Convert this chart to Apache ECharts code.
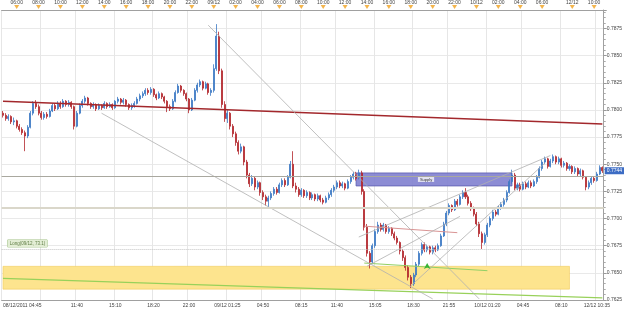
<!DOCTYPE html>
<html>
<head>
<meta charset="utf-8">
<title>NZDUSD M15</title>
<script src="https://cdn.jsdelivr.net/npm/echarts@6/dist/echarts.min.js"></script>
<style>
  html, body { margin: 0; padding: 0; background: #fff; }
  #chart { width: 625px; height: 313px; }
</style>
</head>
<body>
<div id="chart"></div>
<script>
// 15 minute candles, [open, close, low, high]
var day0812 = [
  [0.7797,0.7795,0.7793,0.7799],[0.7795,0.7792,0.7790,0.7797],[0.7792,0.7794,0.7790,0.7796],[0.7794,0.7789,0.7787,0.7795],
  [0.7789,0.7790,0.7786,0.7793],[0.7790,0.7785,0.7783,0.7791],[0.7785,0.7782,0.7780,0.7787],[0.7782,0.7779,0.7777,0.7784],
  [0.7779,0.7776,0.7762,0.7781],[0.7776,0.7784,0.7774,0.7786],[0.7784,0.7797,0.7783,0.7799],[0.7797,0.7806,0.7795,0.7808],
  [0.7806,0.7803,0.7801,0.7809],[0.7803,0.7797,0.7795,0.7805],[0.7797,0.7793,0.7791,0.7799],[0.7793,0.7796,0.7791,0.7798],
  [0.7796,0.7794,0.7792,0.7798],[0.7794,0.7799,0.7793,0.7801],[0.7799,0.7804,0.7798,0.7806],[0.7804,0.7801,0.7799,0.7806],
  [0.7801,0.7806,0.7800,0.7808],[0.7806,0.7803,0.7801,0.7808],[0.7803,0.7808,0.7802,0.7810],[0.7808,0.7805,0.7803,0.7809],
  [0.7805,0.7807,0.7803,0.7809],[0.7807,0.7803,0.7801,0.7808],[0.7803,0.7785,0.7782,0.7804],[0.7785,0.7797,0.7784,0.7799],
  [0.7797,0.7804,0.7796,0.7806],[0.7804,0.7808,0.7802,0.7810],[0.7808,0.7811,0.7806,0.7813],[0.7811,0.7806,0.7804,0.7812],
  [0.7806,0.7803,0.7801,0.7807],[0.7803,0.7805,0.7801,0.7807],[0.7805,0.7801,0.7799,0.7806],[0.7801,0.7804,0.7800,0.7806],
  [0.7804,0.7802,0.7800,0.7805],[0.7802,0.7806,0.7801,0.7808],[0.7806,0.7803,0.7801,0.7807],[0.7803,0.7805,0.7802,0.7807],
  [0.7805,0.7802,0.7800,0.7806],[0.7802,0.7808,0.7801,0.7809],[0.7808,0.7810,0.7806,0.7812],[0.7810,0.7807,0.7805,0.7811],
  [0.7807,0.7809,0.7805,0.7811],[0.7809,0.7805,0.7803,0.7810],[0.7805,0.7802,0.7800,0.7806],[0.7802,0.7804,0.7800,0.7806],
  [0.7804,0.7806,0.7802,0.7808],[0.7806,0.7810,0.7805,0.7812],[0.7810,0.7813,0.7808,0.7815],[0.7813,0.7815,0.7811,0.7817],
  [0.7815,0.7818,0.7813,0.7820],[0.7818,0.7816,0.7814,0.7820],[0.7816,0.7819,0.7814,0.7821],[0.7819,0.7814,0.7812,0.7820],
  [0.7814,0.7811,0.7809,0.7815],[0.7811,0.7815,0.7810,0.7817],[0.7815,0.7812,0.7810,0.7816],[0.7812,0.7808,0.7806,0.7813],
  [0.7808,0.7803,0.7798,0.7809],[0.7803,0.7801,0.7799,0.7805],[0.7801,0.7808,0.7800,0.7810],[0.7808,0.7816,0.7807,0.7818],
  [0.7816,0.7822,0.7815,0.7824],[0.7822,0.7818,0.7816,0.7823],[0.7818,0.7815,0.7813,0.7819],[0.7815,0.7810,0.7808,0.7816],
  [0.7810,0.7800,0.7797,0.7811],[0.7800,0.7809,0.7799,0.7811],[0.7809,0.7818,0.7808,0.7820],[0.7818,0.7823,0.7816,0.7825],
  [0.7823,0.7826,0.7821,0.7828],[0.7826,0.7820,0.7818,0.7827],[0.7820,0.7824,0.7819,0.7826],[0.7824,0.7816,0.7814,0.7825],
  [0.7816,0.7818,0.7813,0.7820]
];
var day0912 = [
  [0.7818,0.7838,0.7816,0.7842],[0.7838,0.7868,0.7836,0.7879],[0.7868,0.7836,0.7833,0.7872],[0.7836,0.7805,0.7802,0.7838],
  [0.7805,0.7792,0.7789,0.7808],[0.7792,0.7797,0.7788,0.7800],[0.7797,0.7785,0.7782,0.7798],[0.7785,0.7778,0.7775,0.7787],
  [0.7778,0.7770,0.7767,0.7780],[0.7770,0.7762,0.7759,0.7772],[0.7762,0.7766,0.7760,0.7769],[0.7766,0.7752,0.7749,0.7767],
  [0.7752,0.7740,0.7737,0.7754],[0.7740,0.7732,0.7729,0.7742],[0.7732,0.7737,0.7730,0.7740],[0.7737,0.7729,0.7726,0.7739],
  [0.7729,0.7733,0.7727,0.7735],[0.7733,0.7724,0.7721,0.7734],[0.7724,0.7720,0.7717,0.7726],[0.7720,0.7716,0.7712,0.7722],
  [0.7716,0.7719,0.7710,0.7721],[0.7719,0.7723,0.7717,0.7725],[0.7723,0.7727,0.7721,0.7729],[0.7727,0.7724,0.7722,0.7729],
  [0.7724,0.7731,0.7723,0.7733],[0.7731,0.7735,0.7729,0.7737],[0.7735,0.7731,0.7729,0.7737],[0.7731,0.7738,0.7730,0.7740],
  [0.7738,0.7750,0.7737,0.7753],[0.7750,0.7730,0.7728,0.7762],[0.7730,0.7727,0.7724,0.7733],[0.7727,0.7722,0.7720,0.7729],
  [0.7722,0.7726,0.7720,0.7728],[0.7726,0.7721,0.7719,0.7727],[0.7721,0.7724,0.7719,0.7726],[0.7724,0.7719,0.7717,0.7725],
  [0.7719,0.7722,0.7717,0.7724],[0.7722,0.7718,0.7716,0.7723],[0.7718,0.7721,0.7716,0.7723],[0.7721,0.7717,0.7715,0.7722],
  [0.7717,0.7715,0.7713,0.7719],[0.7715,0.7719,0.7714,0.7721],[0.7719,0.7722,0.7717,0.7724],[0.7722,0.7726,0.7720,0.7728],
  [0.7726,0.7729,0.7724,0.7731],[0.7729,0.7733,0.7727,0.7735],[0.7733,0.7730,0.7728,0.7735],[0.7730,0.7732,0.7728,0.7734],
  [0.7732,0.7728,0.7726,0.7733],[0.7728,0.7734,0.7727,0.7736],[0.7734,0.7738,0.7732,0.7740],[0.7738,0.7741,0.7736,0.7743],
  [0.7741,0.7737,0.7735,0.7743],[0.7737,0.7742,0.7736,0.7745],[0.7742,0.7725,0.7722,0.7744],[0.7725,0.7692,0.7689,0.7727],
  [0.7692,0.7668,0.7665,0.7695],[0.7668,0.7660,0.7654,0.7670],[0.7660,0.7675,0.7658,0.7677],[0.7675,0.7688,0.7673,0.7690],
  [0.7688,0.7694,0.7686,0.7697],[0.7694,0.7690,0.7688,0.7696],[0.7690,0.7694,0.7688,0.7696],[0.7694,0.7688,0.7686,0.7695],
  [0.7688,0.7691,0.7686,0.7693],[0.7691,0.7686,0.7684,0.7692],[0.7686,0.7682,0.7680,0.7688],[0.7682,0.7678,0.7676,0.7684],
  [0.7678,0.7670,0.7667,0.7679],[0.7670,0.7664,0.7661,0.7672],[0.7664,0.7655,0.7652,0.7666],[0.7655,0.7646,0.7643,0.7657],
  [0.7646,0.7640,0.7636,0.7648],[0.7640,0.7648,0.7638,0.7650],[0.7648,0.7658,0.7646,0.7660],[0.7658,0.7668,0.7656,0.7670],
  [0.7668,0.7676,0.7666,0.7678],[0.7676,0.7671,0.7669,0.7678],[0.7671,0.7674,0.7669,0.7676],[0.7674,0.7669,0.7667,0.7675],
  [0.7669,0.7673,0.7667,0.7675],[0.7673,0.7671,0.7669,0.7675],[0.7671,0.7675,0.7670,0.7677],[0.7675,0.7684,0.7674,0.7686],
  [0.7684,0.7695,0.7683,0.7697],[0.7695,0.7705,0.7693,0.7707],[0.7705,0.7712,0.7703,0.7714],[0.7712,0.7708,0.7706,0.7713],
  [0.7708,0.7716,0.7707,0.7718],[0.7716,0.7713,0.7711,0.7718],[0.7713,0.7720,0.7712,0.7722],[0.7720,0.7724,0.7718,0.7726],
  [0.7724,0.7720,0.7718,0.7728],[0.7720,0.7714,0.7712,0.7722],[0.7714,0.7709,0.7707,0.7716],[0.7709,0.7704,0.7702,0.7711]
];
var day1012 = [
  [0.7704,0.7695,0.7693,0.7706],[0.7695,0.7686,0.7683,0.7697],[0.7686,0.7678,0.7672,0.7688],[0.7678,0.7685,0.7676,0.7687],
  [0.7685,0.7694,0.7683,0.7696],[0.7694,0.7700,0.7692,0.7702],[0.7700,0.7706,0.7698,0.7708],[0.7706,0.7704,0.7702,0.7708],
  [0.7704,0.7710,0.7703,0.7712],[0.7710,0.7713,0.7708,0.7715],[0.7713,0.7717,0.7711,0.7719],[0.7717,0.7724,0.7715,0.7726],
  [0.7724,0.7734,0.7723,0.7736],[0.7734,0.7740,0.7732,0.7745],[0.7740,0.7728,0.7726,0.7742],[0.7728,0.7731,0.7726,0.7733],
  [0.7731,0.7727,0.7725,0.7733],[0.7727,0.7732,0.7726,0.7734],[0.7732,0.7729,0.7727,0.7734],[0.7729,0.7733,0.7728,0.7735],
  [0.7733,0.7730,0.7728,0.7735],[0.7730,0.7734,0.7729,0.7736],[0.7734,0.7738,0.7732,0.7740],[0.7738,0.7746,0.7737,0.7748],
  [0.7746,0.7752,0.7744,0.7754],[0.7752,0.7755,0.7750,0.7757],[0.7755,0.7748,0.7746,0.7756],[0.7748,0.7753,0.7747,0.7755],
  [0.7753,0.7757,0.7751,0.7759],[0.7757,0.7752,0.7750,0.7758],[0.7752,0.7755,0.7750,0.7757],[0.7755,0.7749,0.7747,0.7756],
  [0.7749,0.7751,0.7747,0.7753],[0.7751,0.7746,0.7744,0.7752],[0.7746,0.7748,0.7744,0.7750]
];
var day1212 = [
  [0.7748,0.7743,0.7741,0.7749],[0.7743,0.7746,0.7741,0.7748],[0.7746,0.7741,0.7739,0.7747],[0.7741,0.7744,0.7739,0.7746],
  [0.7744,0.7738,0.7736,0.7745],[0.7738,0.7729,0.7726,0.7739],[0.7729,0.7733,0.7727,0.7735],[0.7733,0.7737,0.7731,0.7739],
  [0.7737,0.7735,0.7733,0.7739],[0.7735,0.7741,0.7734,0.7743],[0.7741,0.7747,0.7740,0.7749],[0.7747,0.7744,0.7742,0.7748]
];

// axis labels: [bar time, text]
var topTicks = [
  ['08/12 06:00','06:00'],['08/12 08:00','08:00'],['08/12 10:00','10:00'],['08/12 12:00','12:00'],
  ['08/12 14:00','14:00'],['08/12 16:00','16:00'],['08/12 18:00','18:00'],['08/12 20:00','20:00'],
  ['08/12 22:00','22:00'],['09/12 00:00','09/12'],['09/12 02:00','02:00'],['09/12 04:00','04:00'],
  ['09/12 06:00','06:00'],['09/12 08:00','08:00'],['09/12 10:00','10:00'],['09/12 12:00','12:00'],
  ['09/12 14:00','14:00'],['09/12 16:00','16:00'],['09/12 18:00','18:00'],['09/12 20:00','20:00'],
  ['09/12 22:00','22:00'],['10/12 00:00','10/12'],['10/12 02:00','02:00'],['10/12 04:00','04:00'],
  ['10/12 06:00','06:00'],['12/12 08:00','12/12'],['12/12 10:00','10:00']
];
var bottomTicks = [
  ['08/12 04:45','08/12/2011 04:45'],['08/12 08:15',''],['08/12 11:30','11:40'],['08/12 15:00','15:10'],
  ['08/12 18:30','18:20'],['08/12 21:45','22:00'],['09/12 01:15','09/12 01:25'],['09/12 04:30','04:50'],
  ['09/12 08:00','08:15'],['09/12 11:15','11:40'],['09/12 14:45','15:05'],['09/12 18:15','18:30'],
  ['09/12 21:30','21:55'],['10/12 01:00','10/12 01:20'],['10/12 04:15','04:45'],['10/12 07:45','08:10'],
  ['12/12 10:15','12/12 10:35']
];

// drawn objects, [time, price]
var redTrend   = [['08/12 04:45',0.7808],['12/12 10:45',0.7787]];
var greenTrend = [['08/12 04:45',0.7645],['12/12 10:45',0.7627]];
var greenShort = [['09/12 13:45',0.7659],['10/12 01:00',0.7652]];
var pinkLine   = [['09/12 13:45',0.7693],['09/12 22:15',0.7687]];
var grayLines = [
  [['08/12 23:30',0.7878],['10/12 00:15',0.7626]],
  [['08/12 13:45',0.7797],['09/12 20:00',0.7626]],
  [['09/12 13:15',0.7683],['10/12 06:45',0.7758]],
  [['09/12 18:00',0.7638],['10/12 06:15',0.7751]],
  [['09/12 14:00',0.7656],['09/12 22:30',0.7702]]
];
var levelGray = 0.7739;
var levelBeige = 0.7710;
var levelLong = 0.7672;
var demandZone = [['08/12 04:45',0.7656],['10/12 08:30',0.7635]];
var supplyZone = [['09/12 13:00',0.7742],['10/12 03:15',0.7730]];
var buyArrow = ['09/12 19:30',0.7659];

function pad(n) { return n < 10 ? '0' + n : '' + n; }
function times(day, h, m, n) {
  var out = [];
  for (var k = 0; k < n; k++) {
    var t = h * 60 + m + k * 15;
    out.push(day + ' ' + pad(Math.floor(t / 60)) + ':' + pad(t % 60));
  }
  return out;
}

var categories = [].concat(times('08/12', 4, 45, day0812.length), times('09/12', 0, 0, day0912.length),
  times('10/12', 0, 0, day1012.length), times('12/12', 8, 0, day1212.length));
var candles = [].concat(day0812, day0912, day1012, day1212);
var lastClose = candles[candles.length - 1][1];

var topIdx = {}, bottomIdx = {};
topTicks.forEach(function (t) { topIdx[categories.indexOf(t[0])] = t[1]; });
bottomTicks.forEach(function (t) { bottomIdx[categories.indexOf(t[0])] = t[1]; });

var yMin = 0.7625, yMax = 0.7892;
var font = 'Liberation Sans';

function seg(pts, style) {
  return [{ coord: pts[0], lineStyle: style }, { coord: pts[1] }];
}

var lines = [
  seg(redTrend, { color: '#a3282c', width: 1.5, type: 'solid' }),
  seg(greenTrend, { color: '#98d15a', width: 1.3, type: 'solid' }),
  seg(greenShort, { color: '#92d066', width: 1, type: 'solid' }),
  seg(pinkLine, { color: '#d99494', width: 1, type: 'solid' })
];
grayLines.forEach(function (g) { lines.push(seg(g, { color: '#b0b0b0', width: 0.8, type: 'solid' })); });
lines.push({ yAxis: levelGray, lineStyle: { color: '#a9a89f', width: 1, type: 'solid' } });
lines.push({ yAxis: levelBeige, lineStyle: { color: '#dad7ca', width: 2, type: 'solid' } });
lines.push({ yAxis: levelLong, lineStyle: { color: '#c4c4c4', width: 1, type: 'dotted' },
  label: { show: true, position: 'insideStartTop', distance: [6, 2], formatter: 'Long(09/12, 73.1)',
    fontSize: 4.5, fontFamily: font, color: '#5f7d45', backgroundColor: '#e2edd4',
    borderColor: '#a9c68f', borderWidth: 0.5, padding: [1, 2] } });

var chart = echarts.init(document.getElementById('chart'));
chart.setOption({
  animation: false,
  backgroundColor: '#fff',
  grid: { left: 0, right: 20, top: 10, bottom: 13 },
  xAxis: [{
    type: 'category', data: categories, position: 'bottom',
    axisLine: { lineStyle: { color: '#a0a0a0' } },
    axisTick: { interval: 2, length: 2, lineStyle: { color: '#999' } },
    axisLabel: {
      fontSize: 5, fontFamily: font, color: '#444', margin: 3, alignMinLabel: 'left',
      interval: function (i) { return bottomIdx[i] !== undefined; },
      formatter: function (v, i) { return bottomIdx[i] || ''; }
    },
    splitLine: { show: true, interval: function (i) { return bottomIdx[i] !== undefined; },
      lineStyle: { color: '#e6e6e6' } }
  }, {
    type: 'category', data: categories, position: 'top',
    axisLine: { lineStyle: { color: '#a0a0a0' } },
    axisTick: { interval: 1, length: 2, lineStyle: { color: '#999' } },
    axisLabel: {
      fontSize: 5, fontFamily: font, color: '#444', margin: 5,
      interval: function (i) { return topIdx[i] !== undefined; },
      formatter: function (v, i) { return topIdx[i] || ''; }
    },
    splitLine: { show: false }
  }],
  yAxis: {
    type: 'value', position: 'right', scale: true, min: yMin, max: yMax, interval: 0.0025,
    axisLine: { show: true, lineStyle: { color: '#a0a0a0' } },
    axisTick: { show: true, length: 3, lineStyle: { color: '#999' } },
    minorTick: { show: true, splitNumber: 5, length: 2, lineStyle: { color: '#aaa' } },
    axisLabel: { fontSize: 5, fontFamily: font, color: '#444', margin: 3, showMaxLabel: false,
      formatter: function (v) { return v.toFixed(4); } },
    splitLine: { lineStyle: { color: '#e9e9e9' } }
  },
  series: [{
    // zones drawn under the candles
    type: 'line', data: [], z: 1, silent: true,
    markArea: {
      silent: true,
      data: [
        [{ coord: demandZone[0], itemStyle: { color: '#fde48e', borderColor: '#f2cd62', borderWidth: 0.6 } },
          { coord: demandZone[1] }],
        [{ coord: supplyZone[0], itemStyle: { color: '#8080cf', opacity: 0.9, borderColor: '#5757ad', borderWidth: 0.8 },
          label: { show: true, position: 'inside', formatter: 'Supply', fontSize: 4, fontFamily: font,
            color: '#333', backgroundColor: '#e3e3f3', padding: [0.5, 2], offset: [-8, 0] } },
          { coord: supplyZone[1] }]
      ]
    }
  }, {
    type: 'candlestick',
    data: candles,
    z: 3,
    barWidth: '55%',
    itemStyle: { color: '#3b78c4', color0: '#b3262c', borderColor: '#3b78c4', borderColor0: '#b3262c', borderWidth: 0.8 },
    markLine: { silent: true, precision: 4, symbol: ['none', 'none'], label: { show: false }, data: lines },
    markPoint: {
      silent: true, label: { show: false },
      data: [{ coord: buyArrow, symbol: 'arrow', symbolSize: [5, 6], itemStyle: { color: '#37b437' } }]
    }
  }, {
    // last price tag on the price axis
    type: 'line', data: [], z: 6, silent: true, clip: false,
    markLine: {
      silent: true, precision: 4, symbol: ['none', 'none'],
      lineStyle: { color: 'rgba(0,0,0,0)', width: 0 },
      label: { show: true, position: 'end', distance: 1, formatter: lastClose.toFixed(4),
        fontSize: 5, fontFamily: font, color: '#fff', backgroundColor: '#3c6cc4', padding: [1, 2] },
      data: [{ yAxis: lastClose }]
    }
  }, {
    type: 'scatter', xAxisIndex: 1, clip: false, silent: true,
    symbol: 'triangle', symbolRotate: 180, symbolSize: [5, 4], symbolOffset: [0, -3],
    itemStyle: { color: '#f0a11e' },
    data: topTicks.map(function (t) { return [t[0], yMax]; })
  }]
});
</script>
</body>
</html>
